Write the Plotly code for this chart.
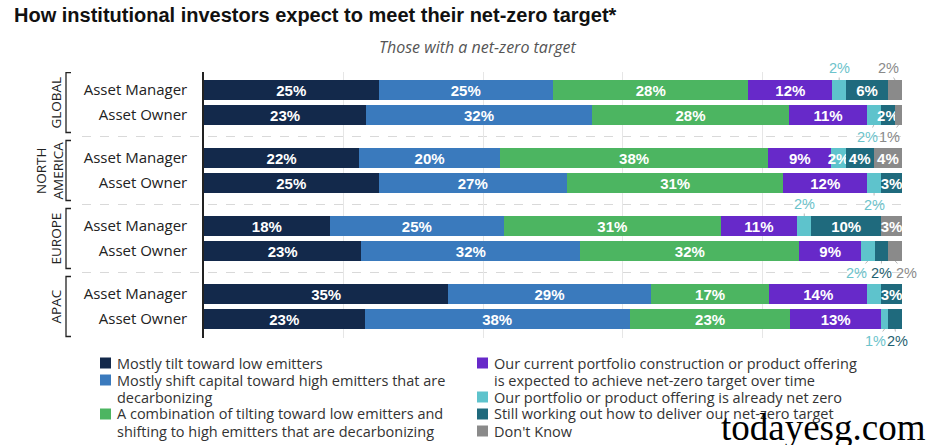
import plotly.graph_objects as go

# ---------------- data ----------------
row_labels = ["Asset Manager", "Asset Owner"] * 4
group_labels = ["GLOBAL", "NORTH<br>AMERICA", "EUROPE", "APAC"]

series_names = [
    "Mostly tilt toward low emitters",
    "Mostly shift capital toward high emitters that are<br>decarbonizing",
    "A combination of tilting toward low emitters and<br>shifting to high emitters that are decarbonizing",
    "Our current portfolio construction or product offering<br>is expected to achieve net-zero target over time",
    "Our portfolio or product offering is already net zero",
    "Still working out how to deliver our net-zero target",
    "Don't Know",
]

tilt      = [25, 23, 22, 25, 18, 23, 35, 23]
shift     = [25, 32, 20, 27, 25, 32, 29, 38]
combo     = [28, 28, 38, 31, 31, 32, 17, 23]
current   = [12, 11,  9, 12, 11,  9, 14, 13]
already   = [ 2,  2,  2,  2,  2,  2,  2,  1]
working   = [ 6,  2,  4,  3, 10,  2,  3,  2]
dont_know = [ 2,  1,  4,  0,  3,  2,  0,  0]

values = [tilt, shift, combo, current, already, working, dont_know]

# labels drawn outside the bar: (row, series, side, xshift px)
outside_labels = [
    (0, 4, "above", 0), (0, 6, "above", -7),
    (1, 4, "below", -6), (1, 6, "below", -9),
    (3, 4, "below", 0),
    (4, 4, "above", 0),
    (5, 4, "below", -11), (5, 5, "below", 0), (5, 6, "below", 11),
    (7, 4, "below", -9), (7, 5, "below", 2),
]
unlabeled = [(6, 4)]

# ---------------- style ----------------
colors = ["#13294b", "#3a7abd", "#4cb561", "#6729c9", "#5ec3cc", "#1f6a7d", "#8a8a8a"]
label_colors = ["#13294b", "#3a7abd", "#4cb561", "#6729c9", "#6cc3cb", "#1f5f70", "#8a8a8a"]
ypos = [0, 1, 2.72, 3.72, 5.44, 6.44, 8.16, 9.16]
FONT = "Open Sans"
W, H = 934, 445
ML, MR, MT, MB = 204, 32, 72, 107
PW, PH = W - ML - MR, H - MT - MB


def px_x(px):
    return (px - ML) / PW


def px_y(py):
    return (H - MB - py) / PH


skip = set((r, s) for r, s, _, _ in outside_labels) | set(unlabeled)

fig = go.Figure()
for s, (name, vals) in enumerate(zip(series_names, values)):
    texts = []
    for r, v in enumerate(vals):
        texts.append("" if (r, s) in skip or v == 0 else f"{v}%")
    fig.add_trace(go.Bar(
        y=ypos, x=vals, orientation="h", name=name.replace("<br>", " "),
        marker=dict(color=colors[s], line=dict(width=0)),
        text=texts, textposition="inside", insidetextanchor="middle",
        textangle=0,
        textfont=dict(color="white", size=15, family="Liberation Sans", weight="bold"),
        width=0.8, showlegend=False,
        hoverinfo="skip",
    ))

# outside labels placed at segment centres (normalised like the bars)
for r, s, side, xs in outside_labels:
    total = sum(v[r] for v in values)
    start = sum(values[k][r] for k in range(s)) / total * 100
    mid = start + values[s][r] / total * 100 / 2
    edge = ypos[r] - 0.4 if side == "above" else ypos[r] + 0.4
    fig.add_annotation(
        x=mid, y=edge, xref="x", yref="y", text=f"{values[s][r]}%",
        showarrow=True, arrowhead=0, arrowwidth=1, arrowcolor="#b8b8b8",
        ax=xs, ay=-12 if side == "above" else 12, standoff=0,
        font=dict(color=label_colors[s], size=14.5, family="Liberation Sans"),
    )

# group separators
group_centres = [(ypos[2 * g] + ypos[2 * g + 1]) / 2 for g in range(4)]
for g in range(3):
    ysep = (ypos[2 * g + 1] + ypos[2 * g + 2]) / 2
    fig.add_shape(type="line", xref="paper", yref="y", x0=px_x(82), x1=1, y0=ysep, y1=ysep,
                  line=dict(color="#d9d9d9", width=1, dash="dash"), layer="below")

# brackets & group labels
bx, btick = px_x(66), px_x(71)
for g, lab in enumerate(group_labels):
    c = group_centres[g]
    y0, y1 = c - 1.2, c + 1.2
    fig.add_shape(type="path", xref="paper", yref="y",
                  path=f"M {btick} {y0} L {bx} {y0} L {bx} {y1} L {btick} {y1}",
                  line=dict(color="#222", width=1.3))
    fig.add_annotation(x=px_x(55) if "<br>" not in lab else px_x(49), y=c, xref="paper", yref="y",
                       text=lab, textangle=-90, showarrow=False, xanchor="center",
                       font=dict(size=13.5, color="#222", family=FONT))

# legend (two columns, drawn from the series names and colours)
legend_cols = [0, 0, 0, 1, 1, 1, 1]
col_x = [100, 477]
line_y0, pitch, sq = 363, 17, 11
line_idx = [0, 0]
for s, name in enumerate(series_names):
    c = legend_cols[s]
    lines = name.split("<br>")
    yc = line_y0 + pitch * line_idx[c]
    fig.add_shape(type="rect", xref="paper", yref="paper",
                  x0=px_x(col_x[c]), x1=px_x(col_x[c] + sq),
                  y0=px_y(yc + sq / 2), y1=px_y(yc - sq / 2),
                  fillcolor=colors[s], line=dict(width=0))
    for k, ln in enumerate(lines):
        fig.add_annotation(text=ln, xref="paper", yref="paper",
                           x=px_x(col_x[c] + sq + 4), y=px_y(yc + pitch * k),
                           xanchor="left", yanchor="middle", showarrow=False,
                           font=dict(size=14.5, color="#333", family=FONT))
    line_idx[c] += len(lines)

# title, subtitle, watermark
fig.add_annotation(text="<b>How institutional investors expect to meet their net-zero target*</b>",
                   xref="paper", yref="paper", x=px_x(12), y=px_y(15), xanchor="left", yanchor="middle",
                   showarrow=False, font=dict(size=20, color="#111", family="Liberation Sans"))
fig.add_annotation(text="<i>Those with a net-zero target</i>",
                   xref="paper", yref="paper", x=px_x(477.5), y=px_y(47), xanchor="center", yanchor="middle",
                   showarrow=False, font=dict(size=16, color="#555", family=FONT))
fig.add_annotation(text="todayesg.com", xref="paper", yref="paper", x=px_x(928), y=px_y(427),
                   xanchor="right", yanchor="middle", showarrow=False,
                   font=dict(size=37, color="#000", family="Liberation Serif"))

fig.update_layout(
    width=W, height=H,
    margin=dict(l=ML, r=MR, t=MT, b=MB, autoexpand=False),
    barmode="stack", barnorm="percent",
    plot_bgcolor="white", paper_bgcolor="white",
    uniformtext=dict(minsize=15, mode="show"),
    showlegend=False,
    xaxis=dict(range=[0, 100], tickvals=[20, 40, 60, 80, 100], showticklabels=False,
               showgrid=True, gridcolor="#e6e6e6", gridwidth=1, zeroline=False,
               showline=False, fixedrange=True),
    yaxis=dict(range=[9.92, -0.72], tickvals=ypos, ticktext=row_labels,
               ticks="", ticklabelstandoff=12, showgrid=False, zeroline=False,
               showline=True, linecolor="#222", linewidth=1.5,
               tickfont=dict(size=15, color="#222", family=FONT)),
)

fig.write_html("out.html", config={"displayModeBar": False},
               post_script="document.body.style.margin='0';")
